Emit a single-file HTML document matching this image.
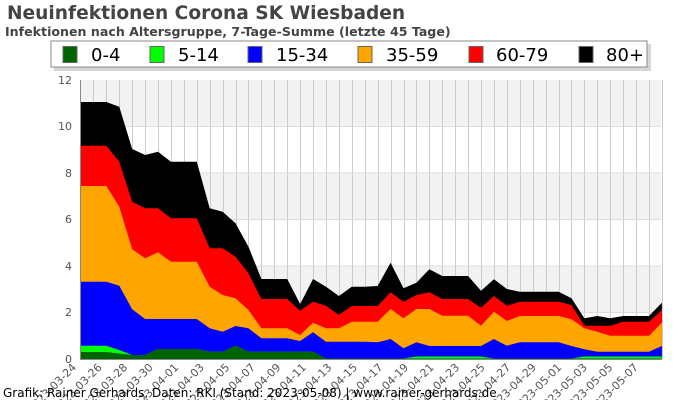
<!DOCTYPE html>
<html><head><meta charset="utf-8"><style>
html,body{margin:0;padding:0;background:#fff;}
svg{display:block;font-family:"Liberation Sans","DejaVu Sans",sans-serif;}
</style></head><body>
<svg width="700" height="400" viewBox="0 0 700 400" xmlns="http://www.w3.org/2000/svg">
<text x="7" y="19" font-family="DejaVu Sans, sans-serif" font-size="18.6" font-weight="bold" fill="#444">Neuinfektionen Corona SK Wiesbaden</text>
<text x="5" y="36" font-family="DejaVu Sans, sans-serif" font-size="12.6" font-weight="bold" fill="#444">Infektionen nach Altersgruppe, 7-Tage-Summe (letzte 45 Tage)</text>

<rect x="80" y="80" width="581" height="46.5" fill="#f2f2f2"/>
<rect x="80" y="173" width="581" height="46.5" fill="#f2f2f2"/>
<rect x="80" y="266" width="581" height="46.5" fill="#f2f2f2"/>
<g id="grid" stroke="#ccc" stroke-width="1"></g>
<line x1="80" y1="126.5" x2="661" y2="126.5" stroke="#ddd"/>
<line x1="80" y1="173" x2="661" y2="173" stroke="#ddd"/>
<line x1="80" y1="219.5" x2="661" y2="219.5" stroke="#ddd"/>
<line x1="80" y1="266" x2="661" y2="266" stroke="#ddd"/>
<line x1="80" y1="312.5" x2="661" y2="312.5" stroke="#ddd"/>
<g id="areas"></g>
<line x1="80.5" y1="80" x2="80.5" y2="360" stroke="#888"/>
<line x1="80" y1="359.5" x2="661" y2="359.5" stroke="#888"/>
<g font-size="11" fill="#555" text-anchor="end" font-family="DejaVu Sans, sans-serif">
<text x="72" y="84">12</text><text x="72" y="130">10</text><text x="72" y="177">8</text>
<text x="72" y="223">6</text><text x="72" y="270">4</text><text x="72" y="316">2</text><text x="72" y="363">0</text>
</g>
<g id="xl" font-size="11" fill="#555" text-anchor="end" font-family="DejaVu Sans, sans-serif"></g>
<text x="3" y="397" font-size="12" fill="#000" font-family="DejaVu Sans, sans-serif">Grafik: Rainer Gerhards, Daten: RKI (Stand: 2023-05-08) | www.rainer-gerhards.de</text>

<rect x="54" y="44" width="597" height="27" fill="#bbb" opacity="0.6"/>
<rect x="51" y="41" width="596" height="26" fill="#fff" stroke="#888"/>
<g font-size="18" fill="#000" font-family="DejaVu Sans, sans-serif">
<rect x="63" y="46.5" width="14" height="16" fill="#006400" stroke="#666"/><text x="91" y="61">0-4</text>
<rect x="150" y="46.5" width="14" height="16" fill="#00ff00" stroke="#666"/><text x="178" y="61">5-14</text>
<rect x="248" y="46.5" width="14" height="16" fill="#0000ff" stroke="#666"/><text x="276" y="61">15-34</text>
<rect x="358" y="46.5" width="14" height="16" fill="#ffa500" stroke="#666"/><text x="386" y="61">35-59</text>
<rect x="469" y="46.5" width="14" height="16" fill="#ff0000" stroke="#666"/><text x="496" y="61">60-79</text>
<rect x="579" y="46.5" width="14" height="16" fill="#000" stroke="#666"/><text x="606" y="61">80+</text>
</g>
</svg>
<script>
(function(){
var NS="http://www.w3.org/2000/svg";
function X(i){return 80.5+12.92*i;}
var base=359.5;
var black=[102,102,102,106.7,149,155,151.7,161.7,161.7,161.7,208.3,211.7,223.3,246.7,279,279,279,304,279,286.7,296,286.7,286.7,286,262.7,288.3,282.7,269.3,276,276,276,290.7,279.3,289,291.7,291.7,291.7,291.7,298.3,318.3,316,318.3,316,316,316,302.7];
var red=[145.7,145.7,145.7,161.7,201.7,208.3,208.3,218.3,218.3,218.3,248.3,248.3,256.7,273.3,299,299,299,310.7,301.7,305.7,315,306,306,306,292.3,301.7,295,292.3,299,299,299,307.7,296,305.7,301.7,301.7,301.7,301.7,305,325.7,325.7,325.7,321.7,321.7,321.7,310];
var orange=[186,186,186,206.7,249.3,258.3,252.3,261.7,261.7,261.7,286.7,295,298.3,310,328.3,328.3,328.3,335,322.7,328.3,328.3,321.7,321.7,321.7,309,318.3,309,309,315.7,315.7,315.7,325.7,311.7,321,316,316,316,316,319.3,328.3,331.7,335.7,335.7,335.7,335.7,322.7];
var blue=[281.7,281.7,281.7,285.7,309.3,319,319,319,319,319,328.3,331.7,326,328.3,338.3,338.3,338.3,341,332.3,341.7,341.7,341.7,341.7,342.3,339,348.3,342.3,346,346,346,346,346,339,345.7,342.3,342.3,342.3,342.3,346,349.3,351.7,351.7,351.7,351.7,351.7,346];
var dg=[352,352,352,353.5,355,355,349,349,349,349,351.7,351.7,345.7,351.7,351.7,351.7,351.7,351.7,351.7];
while(dg.length<46)dg.push(358.5);
var lg=[345.7,345.7,345.7,350,355].concat(dg.slice(5));
for(var i=19;i<46;i++){lg[i]=(i>=26&&i<=31)||(i>=39)?356.5:358.5;}
var g=document.getElementById("areas");
function area(arr,col){var p="";for(var i=0;i<46;i++)p+=X(i)+","+arr[i]+" ";p+=X(45)+","+base+" "+X(0)+","+base;var e=document.createElementNS(NS,"polygon");e.setAttribute("points",p);e.setAttribute("fill",col);g.appendChild(e);}
area(black,"#000");area(red,"#ff0000");area(orange,"#ffa500");area(blue,"#0000ff");area(lg,"#00ff00");area(dg,"#006400");
var gr=document.getElementById("grid");
for(var i=1;i<46;i++){var l=document.createElementNS(NS,"line");var x=Math.round(X(i))+0.5;l.setAttribute("x1",x);l.setAttribute("x2",x);l.setAttribute("y1",80);l.setAttribute("y2",359);gr.appendChild(l);}
var xl=document.getElementById("xl");
var d=new Date(Date.UTC(2023,2,24));
for(var i=0;i<46;i+=2){var dd=new Date(d.getTime()+i*86400000);var s=dd.toISOString().slice(0,10);var x=80+12.77*i-3;var t=document.createElementNS(NS,"text");t.setAttribute("x",x);t.setAttribute("y",368);t.setAttribute("transform","rotate(-45 "+x+" 368)");t.textContent=s;xl.appendChild(t);}
})();
</script>
</body></html>
